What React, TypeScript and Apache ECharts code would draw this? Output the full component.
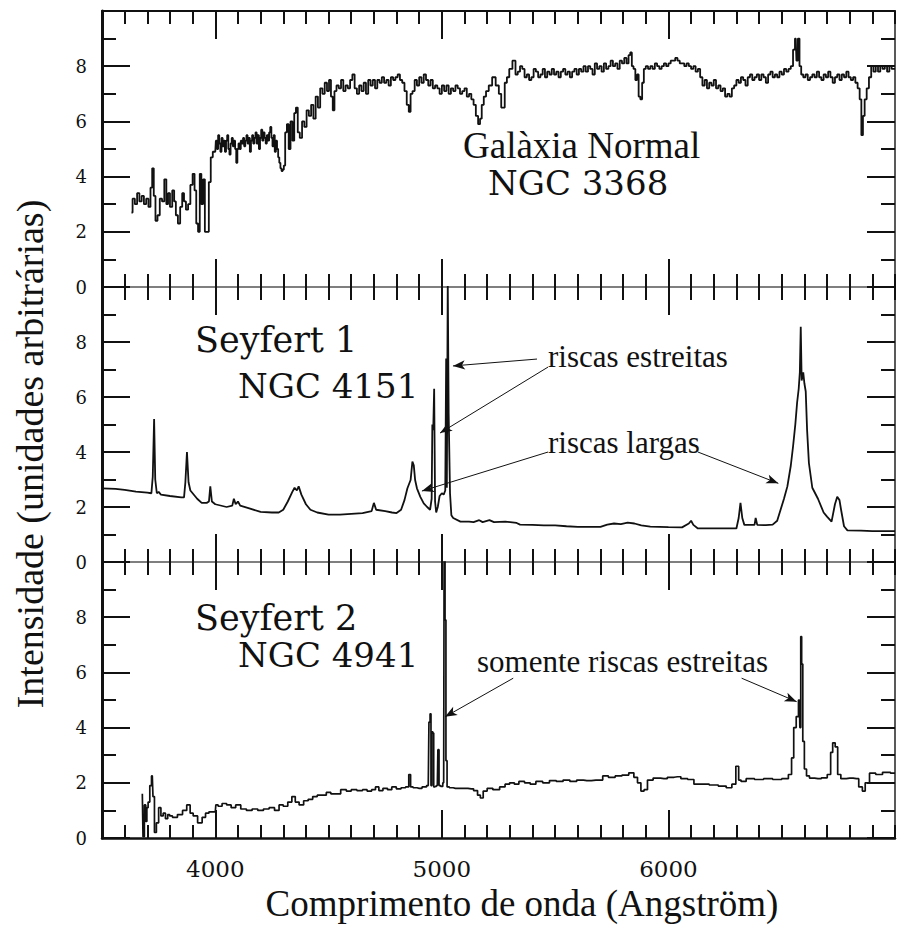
import React, { useEffect, useRef } from "react";
import * as echarts from "echarts";

// ---------- data ----------
const xMin = 3500;
const xMax = 7000;
const xMajorTicks = [4000, 5000, 6000];
const xTickLabels = [4000, 5000, 6000];
const yMin = 0;
const yMax = 10;

// Galàxia Normal NGC 3368  [wavelength Å, intensity]
const ngc3368: number[][] = [
  [3630,2.7],[3640,3.2],[3650,3.0],[3660,3.4],[3670,3.1],[3680,3.3],[3690,3.0],[3700,3.2],[3710,2.9],[3718,3.6],[3725,4.3],[3732,3.3],[3740,2.4],[3750,2.6],[3760,3.2],[3770,3.1],[3780,3.9],[3788,3.0],[3795,3.4],[3805,2.9],[3815,3.5],[3822,3.1],[3830,2.6],[3840,2.3],[3850,2.9],[3858,3.4],[3866,3.1],[3875,2.8],[3885,3.0],[3895,3.7],[3905,4.1],[3912,3.5],[3920,2.3],[3928,2.0],[3935,4.1],[3942,3.0],[3950,3.9],[3958,2.0],[3968,2.0],[3975,3.8],[3985,4.7],[3993,4.9],
  [4000,4.9],[4005,5.3],[4010,5.0],[4015,5.5],[4020,5.2],[4025,4.9],[4030,5.4],[4035,5.1],[4040,5.3],[4045,4.9],[4050,5.3],[4055,5.5],[4060,5.0],[4065,4.8],[4070,5.2],[4075,5.4],[4080,5.1],[4085,5.3],[4090,5.0],[4095,4.5],[4100,5.0],[4105,5.2],[4110,5.0],[4115,5.3],[4120,5.2],[4125,5.4],[4130,5.1],[4135,5.3],[4140,5.5],[4145,5.2],[4150,5.4],[4155,4.9],[4160,5.3],[4165,5.5],[4170,5.2],[4175,5.4],[4180,5.6],[4185,5.2],[4190,5.5],[4195,5.0],[4200,5.4],[4205,5.7],[4210,5.3],[4215,5.6],[4220,5.4],[4225,5.2],[4230,5.5],[4235,5.3],[4240,5.6],[4245,5.8],[4250,5.4],[4255,5.1],[4260,5.5],[4265,4.9],[4270,5.3],[4275,5.0],[4280,4.7],[4285,4.5],[4290,4.3],[4295,4.2],[4300,4.25],[4305,4.4],
  [4312,5.6],[4320,5.9],[4328,5.0],[4336,6.0],[4345,5.3],[4352,6.3],[4360,6.5],[4368,5.6],[4378,5.4],[4388,6.0],[4398,5.8],[4408,6.4],[4418,6.2],[4428,6.6],[4438,6.1],[4448,6.9],[4458,6.5],[4468,7.2],[4478,7.0],[4488,7.4],[4498,7.1],
  [4506,7.5],[4515,6.9],[4522,6.4],[4530,7.1],[4540,7.3],[4550,7.2],[4560,7.5],[4570,7.1],[4580,7.3],[4590,7.2],[4600,7.5],[4610,7.7],[4620,7.2],[4630,7.0],[4640,7.3],[4650,7.1],[4660,7.4],[4670,7.0],[4680,7.5],[4690,7.3],[4700,7.5],[4710,7.2],[4720,7.5],[4730,7.4],[4740,7.6],[4750,7.4],[4760,7.5],[4770,7.3],[4780,7.6],[4790,7.5],[4800,7.6],[4810,7.7],[4820,7.5],[4830,7.4],[4840,7.1],[4850,6.6],[4858,6.35],[4866,7.0],[4875,7.1],[4885,7.5],[4895,7.3],[4905,7.6],[4915,7.4],[4925,7.7],[4935,7.5],[4945,7.3],[4955,7.5],[4965,7.2],[4975,7.3],[4985,7.2],[4995,7.0],
  [5005,7.3],[5015,7.1],[5025,7.3],[5035,7.0],[5045,7.2],[5055,7.1],[5065,7.3],[5075,7.2],[5085,7.0],[5095,7.1],[5105,7.2],[5115,6.9],[5125,7.0],[5135,6.8],[5145,6.6],[5155,6.2],[5165,5.9],[5172,6.1],[5180,6.6],[5190,6.9],[5200,7.1],[5214,7.3],[5230,7.6],[5245,7.3],[5258,7.0],[5266,6.5],[5273,6.5],[5282,7.4],[5292,7.6],[5303,7.9],[5320,8.2],[5330,7.7],[5340,7.8],[5350,8.0],[5360,7.9],[5370,7.6],[5380,7.7],[5390,7.5],[5400,7.6],[5410,7.9],[5420,7.8],[5430,7.6],
  [5440,7.7],[5450,7.9],[5460,7.6],[5470,7.8],[5480,7.7],[5490,7.9],[5500,7.7],[5510,7.8],[5520,7.6],[5530,7.8],[5540,7.9],[5550,7.7],[5560,7.8],[5570,7.6],[5580,7.8],[5590,7.9],[5600,7.7],[5610,7.9],[5620,7.8],[5630,8.0],[5640,7.8],[5650,8.0],[5660,7.9],[5670,7.7],[5680,8.1],[5690,7.9],[5700,8.0],[5710,7.8],[5720,8.1],[5730,7.9],[5740,8.0],[5750,8.2],[5760,8.0],[5770,8.1],[5780,7.9],[5790,8.2],[5800,8.1],[5810,8.3],[5820,8.1],[5828,8.4],[5835,8.5],[5842,8.0],[5850,7.9],[5858,7.5],[5865,7.7],[5872,6.9],[5880,6.8],[5888,7.4],[5895,7.9],
  [5905,8.0],[5915,7.9],[5925,8.0],[5935,7.9],[5945,8.1],[5955,8.0],[5965,7.9],[5975,8.0],[5985,8.1],[5995,8.0],[6005,8.1],[6015,8.2],[6025,8.2],[6035,8.3],[6045,8.2],[6055,8.1],[6065,8.1],[6075,8.0],[6085,8.1],[6095,8.0],[6105,7.9],[6115,8.0],[6125,7.8],[6135,7.9],[6145,7.6],[6155,7.3],[6165,7.5],[6175,7.2],[6185,7.4],[6195,7.3],[6205,7.5],[6215,7.2],[6225,7.3],[6235,7.1],[6245,7.2],[6255,6.9],[6265,7.0],[6275,6.9],[6285,7.2],[6295,7.3],
  [6305,7.5],[6315,7.4],[6325,7.6],[6335,7.5],[6345,7.3],[6355,7.6],[6365,7.7],[6375,7.5],[6385,7.6],[6395,7.7],[6405,7.5],[6415,7.7],[6425,7.6],[6435,7.4],[6445,7.7],[6455,7.8],[6465,7.6],[6475,7.7],[6485,7.6],[6495,7.8],[6505,7.7],[6515,7.9],[6525,7.8],[6535,7.9],[6545,8.0],[6555,8.6],[6562,9.0],[6568,8.2],[6575,9.0],[6582,8.0],
  [6590,7.7],[6600,7.6],[6610,7.7],[6620,7.5],[6630,7.6],[6640,7.7],[6650,7.6],[6660,7.8],[6670,7.6],[6680,7.5],[6690,7.7],[6700,7.6],[6710,7.8],[6720,7.6],[6730,7.4],[6740,7.6],[6750,7.7],[6760,7.5],[6770,7.7],[6780,7.6],[6790,7.8],[6800,7.6],[6810,7.5],[6820,7.6],[6830,7.4],[6840,7.2],[6848,6.8],[6855,5.5],[6862,6.2],[6870,6.8],[6880,7.2],[6890,7.6],[6900,8.0],[6910,7.8],[6920,8.0],[6930,7.8],[6940,8.0],[6950,7.9],[6960,8.0],[6970,7.8],[6980,8.0],[6990,7.9],[7000,7.9]
];

// Seyfert 1 NGC 4151
const ngc4151: number[][] = [
  [3500,2.68],[3560,2.66],[3600,2.62],[3650,2.56],[3700,2.52],[3718,2.5],[3724,3.1],[3730,5.2],[3735,3.0],[3742,2.5],[3750,2.55],[3760,2.45],[3800,2.4],[3850,2.35],[3862,2.35],[3868,2.9],[3875,4.0],[3882,2.9],[3890,2.6],[3900,2.5],[3920,2.3],[3940,2.15],[3962,2.15],[3972,2.2],[3978,2.75],[3985,2.2],
  [4000,2.1],[4050,2.0],[4075,2.05],[4082,2.3],[4090,2.1],[4100,2.2],[4110,2.05],[4150,1.95],[4200,1.82],[4250,1.8],[4280,1.8],[4300,1.9],[4320,2.2],[4340,2.55],[4350,2.7],[4360,2.6],[4368,2.75],[4380,2.45],[4400,2.1],[4420,1.9],[4450,1.8],[4500,1.72],[4550,1.72],[4600,1.75],[4650,1.78],[4690,1.85],[4700,2.15],[4710,1.9],[4750,1.85],[4780,1.8],
  [4800,1.78],[4820,1.9],[4835,2.25],[4848,2.68],[4862,2.98],[4870,3.65],[4876,3.52],[4882,2.98],[4890,2.68],[4905,2.37],[4920,2.13],[4935,2.0],[4948,1.9],[4955,2.3],[4958,5.0],[4962,4.8],[4966,6.3],[4970,2.2],[4975,1.8],[4982,2.0],[4990,2.4],[5000,2.5],[5008,2.45],[5015,2.6],[5019,7.4],[5022,2.7],[5026,10.2],[5030,5.4],[5036,2.5],[5042,1.7],[5050,1.6],
  [5082,1.47],[5120,1.47],[5140,1.45],[5165,1.52],[5180,1.45],[5210,1.52],[5230,1.45],[5280,1.47],[5330,1.42],[5345,1.36],[5400,1.35],[5450,1.33],[5500,1.33],[5550,1.3],[5600,1.28],[5650,1.28],[5700,1.28],[5730,1.36],[5760,1.4],[5790,1.38],[5820,1.43],[5850,1.4],[5880,1.33],[5920,1.29],[5960,1.28],
  [6000,1.27],[6060,1.26],[6090,1.4],[6100,1.5],[6110,1.35],[6130,1.22],[6200,1.22],[6250,1.22],[6300,1.22],[6310,1.6],[6318,2.15],[6326,1.6],[6335,1.35],[6380,1.35],[6385,1.6],[6392,1.35],[6430,1.34],[6460,1.36],[6480,1.5],[6495,1.9],[6510,2.3],[6525,2.75],[6540,3.5],[6550,4.2],[6560,5.0],[6568,5.8],[6575,6.3],[6580,6.9],[6584,8.55],[6588,6.6],[6595,6.9],[6600,6.5],[6606,6.2],[6612,4.8],[6620,3.6],[6635,2.7],[6660,2.3],[6685,1.8],
  [6700,1.65],[6720,1.47],[6735,2.1],[6745,2.37],[6755,2.25],[6762,1.9],[6775,1.3],[6790,1.15],[6850,1.14],[6900,1.12],[7000,1.12]
];

// Seyfert 2 NGC 4941
const ngc4941: number[][] = [
  [3678,1.6],[3684,0.05],[3690,1.2],[3696,0.6],[3700,1.1],[3707,1.3],[3715,1.9],[3722,2.25],[3728,1.5],[3735,0.2],[3745,0.55],[3755,1.1],[3765,0.8],[3775,0.9],[3785,0.7],[3795,0.85],[3802,0.8],[3820,0.75],[3846,0.85],[3865,1.0],[3883,1.2],[3895,0.9],[3910,0.8],[3934,0.55],[3950,0.75],[3964,0.9],[3980,0.95],
  [4000,0.95],[4005,1.2],[4020,1.15],[4040,1.25],[4060,1.2],[4080,1.1],[4100,1.2],[4125,1.05],[4150,1.0],[4175,1.05],[4200,1.0],[4225,1.05],[4250,1.1],[4273,1.0],[4290,1.2],[4310,1.15],[4330,1.3],[4346,1.5],[4360,1.3],[4380,1.2],[4400,1.35],[4420,1.4],[4440,1.5],[4460,1.55],[4480,1.55],
  [4500,1.65],[4520,1.6],[4540,1.6],[4567,1.75],[4590,1.7],[4610,1.75],[4640,1.72],[4660,1.75],[4680,1.7],[4700,1.75],[4714,1.85],[4730,1.72],[4750,1.8],[4770,1.75],[4788,1.85],[4810,1.78],[4830,1.82],[4850,1.85],[4858,2.3],[4866,1.85],[4880,1.82],[4900,1.8],[4925,1.85],[4940,1.9],[4946,4.2],[4950,4.5],[4954,1.9],[4958,3.85],[4962,3.8],[4966,1.85],[4972,1.87],[4980,1.9],[4985,3.2],[4990,1.9],
  [5000,1.87],[5008,2.0],[5012,10.3],[5016,7.9],[5020,2.8],[5026,1.85],[5040,1.82],[5060,1.8],[5082,1.8],[5100,1.8],[5130,1.78],[5150,1.72],[5165,1.55],[5175,1.45],[5190,1.7],[5210,1.8],[5240,1.75],[5270,1.85],[5288,1.95],[5310,2.0],[5330,1.95],[5350,2.05],[5380,2.0],[5400,1.95],[5430,2.05],[5460,2.0],[5490,2.08],
  [5520,2.05],[5550,2.1],[5580,2.05],[5610,2.1],[5640,2.08],[5680,2.1],[5700,2.1],[5720,2.25],[5750,2.2],[5780,2.25],[5810,2.28],[5840,2.36],[5855,2.2],[5872,2.0],[5885,1.7],[5900,1.75],[5915,2.1],[5950,2.17],[5980,2.15],
  [6010,2.2],[6040,2.22],[6070,2.15],[6100,2.12],[6125,1.95],[6160,1.95],[6200,1.92],[6240,1.88],[6270,1.82],[6290,1.95],[6305,2.6],[6315,2.1],[6326,2.05],[6360,2.15],[6400,2.12],[6440,2.15],[6480,2.12],[6520,2.15],[6539,2.3],[6548,2.9],[6558,4.0],[6570,4.4],[6578,5.0],[6582,4.0],[6586,7.3],[6590,6.3],[6596,3.5],[6604,2.5],[6615,2.25],[6630,2.17],[6660,2.15],[6690,2.18],
  [6712,2.3],[6720,3.1],[6730,3.45],[6742,3.3],[6752,2.3],[6770,2.15],[6800,2.17],[6830,2.15],[6850,1.85],[6862,1.7],[6875,2.0],[6900,2.35],[6930,2.3],[6960,2.38],[7000,2.35]
];

// annotation arrows, in data coordinates [from, to]
const arrowsSeyfert1: number[][][] = [
  [[5420, 7.38], [5049, 7.13]],
  [[5469, 7.09], [4992, 4.69]],
  [[5469, 4.0], [4912, 2.58]],
  [[6130, 4.0], [6485, 2.86]]
];
const arrowsSeyfert2: number[][][] = [
  [[5315, 5.79], [5014, 4.39]],
  [[6323, 5.79], [6566, 4.94]]
];

// ---------- layout ----------
const INK = "#111";
const GRID_LEFT = 102;
const GRID_WIDTH = 793;
const panels = [
  { top: 11, height: 276 },
  { top: 287, height: 275 },
  { top: 562, height: 276 }
];

function buildOption() {
  const tickStyle = { color: INK, width: 2 };
  const xAxes: any[] = [];
  const yAxes: any[] = [];
  panels.forEach((p, i) => {
    const base = {
      gridIndex: i,
      type: "value",
      min: xMin,
      max: xMax,
      splitLine: { show: false },
      axisLabel: { show: false }
    };
    const bottomLine =
      i === 2 ? { color: INK, width: 2.5 } : { color: "#555", width: 1.5 };
    xAxes.push({
      ...base,
      position: "bottom",
      interval: 100,
      axisLine: { show: true, onZero: false, lineStyle: bottomLine },
      axisTick: { show: true, inside: true, length: 13, lineStyle: tickStyle }
    });
    xAxes.push({
      ...base,
      position: "bottom",
      axisLine: { show: false, onZero: false },
      axisTick: {
        show: true,
        inside: true,
        length: 28,
        customValues: xMajorTicks,
        lineStyle: tickStyle
      },
      axisLabel:
        i === 2
          ? {
              show: true,
              customValues: xTickLabels,
              margin: 19,
              fontFamily: "DejaVu Serif",
              fontSize: 23,
              color: INK,
              formatter: (v: number) => String(v)
            }
          : { show: false }
    });
    xAxes.push({
      ...base,
      position: "top",
      interval: 100,
      axisLine: {
        show: i === 0,
        onZero: false,
        lineStyle: { color: INK, width: 2 }
      },
      axisTick: { show: true, inside: true, length: 13, lineStyle: tickStyle }
    });
    xAxes.push({
      ...base,
      position: "top",
      axisLine: { show: false, onZero: false },
      axisTick: {
        show: true,
        inside: true,
        length: 28,
        customValues: xMajorTicks,
        lineStyle: tickStyle
      }
    });

    const yBase = {
      gridIndex: i,
      type: "value",
      min: yMin,
      max: yMax,
      interval: 2,
      splitLine: { show: false },
      axisTick: { show: true, inside: true, length: 28, lineStyle: tickStyle },
      minorTick: {
        show: true,
        splitNumber: 2,
        length: 14,
        lineStyle: tickStyle
      }
    };
    yAxes.push({
      ...yBase,
      position: "left",
      axisLine: { show: true, onZero: false, lineStyle: { color: INK, width: 3 } },
      axisLabel: {
        show: true,
        showMaxLabel: false,
        margin: 15,
        fontFamily: "DejaVu Serif",
        fontSize: 18,
        color: INK
      }
    });
    yAxes.push({
      ...yBase,
      position: "right",
      axisLine: {
        show: true,
        onZero: false,
        lineStyle: { color: "#222", width: 1.5 }
      },
      axisLabel: { show: false }
    });
  });

  const arrowMark = (arrows: number[][][]) => ({
    silent: true,
    symbol: ["none", "arrow"],
    symbolSize: [7, 12],
    label: { show: false },
    lineStyle: { color: INK, width: 1, type: "solid" },
    emphasis: { disabled: true },
    data: arrows.map((a) => [{ coord: a[0] }, { coord: a[1] }])
  });

  const lineSeries = (
    idx: number,
    data: number[][],
    step: any,
    width: number,
    markLine?: any
  ) => ({
    type: "line",
    xAxisIndex: idx * 4,
    yAxisIndex: idx * 2,
    data,
    step,
    symbol: "none",
    showSymbol: false,
    silent: true,
    clip: true,
    lineStyle: { color: INK, width },
    ...(markLine ? { markLine } : {})
  });

  const txt = (
    text: string,
    x: number,
    y: number,
    size: number,
    family: string,
    align = "left",
    rotation = 0
  ) => ({
    type: "text",
    x,
    y,
    rotation,
    silent: true,
    style: {
      text,
      fill: INK,
      font: `${size}px "${family}"`,
      align,
      textAlign: align,
      verticalAlign: "middle",
      textVerticalAlign: "middle"
    }
  });

  return {
    animation: false,
    backgroundColor: "#fff",
    grid: panels.map((p) => ({
      left: GRID_LEFT,
      width: GRID_WIDTH,
      top: p.top,
      height: p.height,
      containLabel: false,
      outerBoundsMode: "none"
    })),
    xAxis: xAxes,
    yAxis: yAxes,
    series: [
      lineSeries(0, ngc3368, "middle", 1.8),
      lineSeries(1, ngc4151, false, 1.8, arrowMark(arrowsSeyfert1)),
      lineSeries(2, ngc4941, "middle", 1.7, arrowMark(arrowsSeyfert2))
    ],
    graphic: [
      txt("Galàxia Normal", 463, 145, 37, "Liberation Serif"),
      txt("NGC 3368", 488, 183, 34, "DejaVu Serif"),
      txt("Seyfert 1", 195, 340, 35, "DejaVu Serif"),
      txt("NGC 4151", 238, 386, 34, "DejaVu Serif"),
      txt("Seyfert 2", 195, 618, 35, "DejaVu Serif"),
      txt("NGC 4941", 238, 655, 34, "DejaVu Serif"),
      txt("riscas estreitas", 548, 356, 31, "Liberation Serif"),
      txt("riscas largas", 548, 442, 31, "Liberation Serif"),
      txt("somente riscas estreitas", 477, 661, 31, "Liberation Serif"),
      txt("Comprimento de onda (Angström)", 522, 903, 37, "Liberation Serif", "center"),
      txt(
        "Intensidade (unidades arbitrárias)",
        30,
        454,
        38,
        "Liberation Serif",
        "center",
        Math.PI / 2
      )
    ]
  };
}

export default function App() {
  const ref = useRef<HTMLDivElement>(null);
  useEffect(() => {
    if (!ref.current) return;
    const chart = echarts.init(ref.current, null, { renderer: "svg" });
    chart.setOption(buildOption() as any);
    return () => chart.dispose();
  }, []);
  return (
    <div
      ref={ref}
      style={{
        position: "fixed",
        left: 0,
        top: 0,
        width: 898,
        height: 928,
        background: "#fff"
      }}
    />
  );
}
